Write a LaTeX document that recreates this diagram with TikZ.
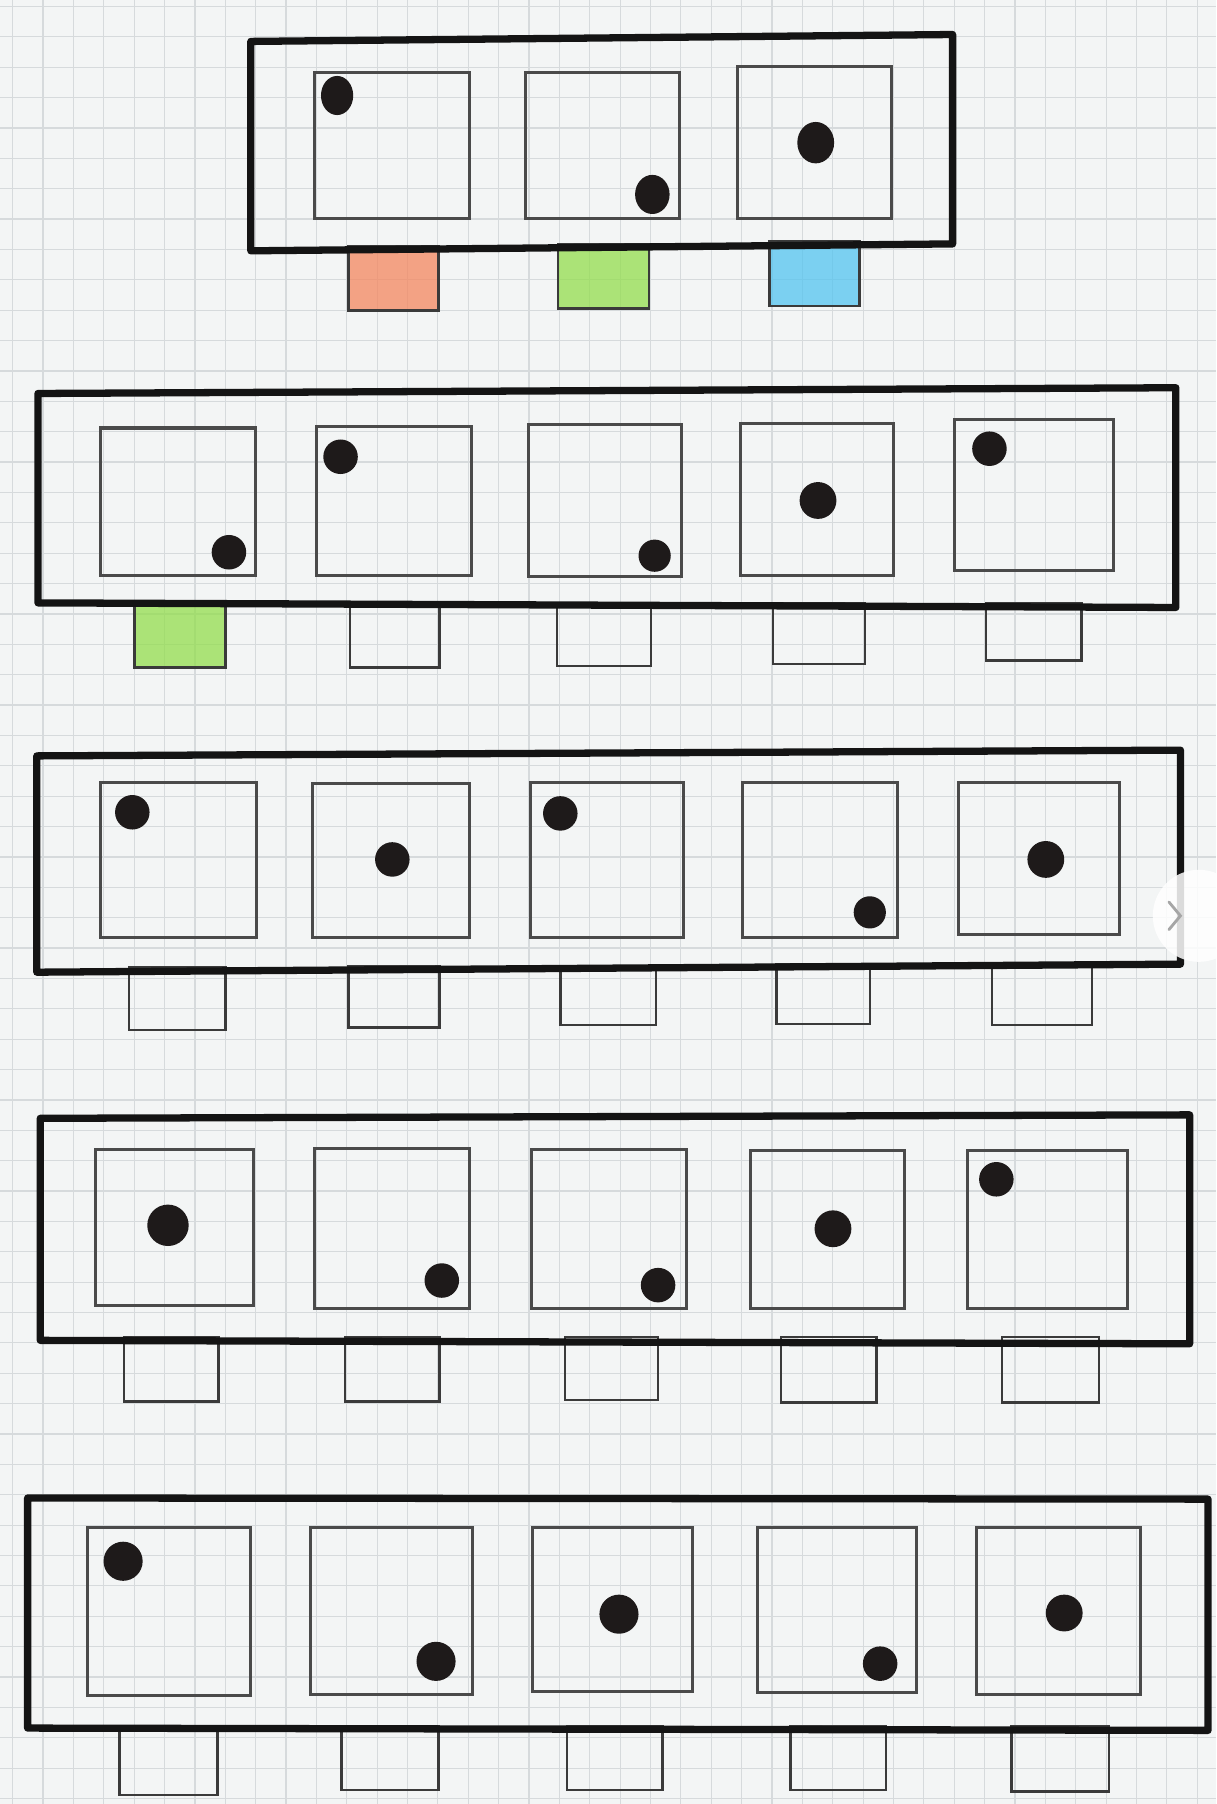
\documentclass[tikz,border=0pt]{standalone}
\begin{document}
\begin{tikzpicture}[x=0.02cm,y=-0.02cm,
  paper/.style={fill=paperc},
  gridline/.style={draw=gridc,line width=0.6pt},
  frame/.style={draw=framec,line width=3.6pt,line join=round},
  innersq/.style={draw=sqc,line width=1.5pt},
  tabbox/.style={draw=tabc,line width=1.2pt},
  dot/.style={fill=dotc}]
\definecolor{paperc}{HTML}{F3F5F5}
\definecolor{gridc}{HTML}{D6DADC}
\definecolor{framec}{HTML}{141414}
\definecolor{sqc}{HTML}{4A4A4A}
\definecolor{tabc}{HTML}{3A3A3A}
\definecolor{dotc}{HTML}{1E1A1A}
\definecolor{orangec}{HTML}{F4875F}
\definecolor{greenc}{HTML}{93DE4E}
\definecolor{bluec}{HTML}{54C4F0}
\useasboundingbox (0,0) rectangle (1057,1568);
\fill[paper] (0,0) rectangle (1057,1568);
% grid paper
\foreach \k in {-1,...,39} {\draw[gridline] ({37.4+26.4*\k},0) -- ({37.4+26.4*\k},1568);}
\foreach \k in {-2,...,59} {\draw[gridline] (0,{32+26.4*\k}) -- (1057,{32+26.4*\k});}
% ---------- tabs (drawn first; frame covers their top edges)
% row 1
\draw[tabbox,fill=orangec,fill opacity=0.75] (303,214) rectangle (381,270);
\draw[tabbox,fill=greenc,fill opacity=0.75] (485,212) rectangle (564,268);
\draw[tabbox,fill=bluec,fill opacity=0.75] (669,210) rectangle (747,266);
% row 2
\draw[tabbox,fill=greenc,fill opacity=0.75] (117,524) rectangle (196,580);
\draw[tabbox] (304,524) rectangle (382,580);
\draw[tabbox] (484,524) rectangle (566,579);
\draw[tabbox] (672,524) rectangle (752,577);
\draw[tabbox] (857,524) rectangle (940,574);
% row 3
\draw[tabbox] (112,841) rectangle (196,895);
\draw[tabbox] (303,840) rectangle (382,893);
\draw[tabbox] (487,840) rectangle (570,891);
\draw[tabbox] (675,838) rectangle (756,890);
\draw[tabbox] (862,837) rectangle (949,891);
% row 4
\draw[tabbox] (108,1162) rectangle (190,1218);
\draw[tabbox] (300,1162) rectangle (382,1218);
\draw[tabbox] (491,1162) rectangle (572,1217);
\draw[tabbox] (679,1162) rectangle (762,1219);
\draw[tabbox] (871,1162) rectangle (955,1219);
% row 5
\draw[tabbox] (104,1500) rectangle (189,1560);
\draw[tabbox] (297,1500) rectangle (381,1556);
\draw[tabbox] (493,1500) rectangle (576,1556);
\draw[tabbox] (687,1500) rectangle (770,1556);
\draw[tabbox] (879,1500) rectangle (964,1557);
% ---------- frames
\draw[frame] (218,36) -- (828,30) -- (828,212) -- (218,218) -- cycle;
\draw[frame] (33,342) -- (1022,337) -- (1022,528) -- (33,524) -- cycle;
\draw[frame] (32,657) -- (1026,652) -- (1026,838) -- (32,845) -- cycle;
\draw[frame] (35,972) -- (1034,969) -- (1034,1168) -- (35,1165) -- cycle;
\draw[frame] (24,1302) -- (1050,1303) -- (1050,1504) -- (24,1502) -- cycle;
% ---------- inner squares
% row 1
\draw[innersq] (273,63) rectangle (408,190);
\draw[innersq] (457,63) rectangle (591,190);
\draw[innersq] (641,58) rectangle (775,190);
% row 2
\draw[innersq] (87,372) rectangle (222,500);
\draw[innersq] (275,371) rectangle (410,500);
\draw[innersq] (459,369) rectangle (592,501);
\draw[innersq] (644,368) rectangle (777,500);
\draw[innersq] (830,365) rectangle (968,496);
% row 3
\draw[innersq] (87,680) rectangle (223,815);
\draw[innersq] (272,681) rectangle (408,815);
\draw[innersq] (461,680) rectangle (594,815);
\draw[innersq] (645,680) rectangle (780,815);
\draw[innersq] (833,680) rectangle (973,812);
% row 4
\draw[innersq] (83,999) rectangle (220,1135);
\draw[innersq] (273,998) rectangle (408,1137);
\draw[innersq] (462,999) rectangle (597,1137);
\draw[innersq] (652,1000) rectangle (786,1137);
\draw[innersq] (841,1000) rectangle (980,1137);
% row 5
\draw[innersq] (76,1328) rectangle (218,1474);
\draw[innersq] (270,1328) rectangle (411,1473);
\draw[innersq] (463,1328) rectangle (602,1470);
\draw[innersq] (658,1328) rectangle (797,1471);
\draw[innersq] (849,1328) rectangle (991,1473);
% ---------- dots
% row 1
\fill[dot] (293,83) ellipse (14 and 17);
\fill[dot] (567,169) ellipse (15 and 17);
\fill[dot] (709,124) ellipse (16 and 18);
% row 2
\fill[dot] (199,480) circle (15);
\fill[dot] (296,397) circle (15);
\fill[dot] (569,483) circle (14);
\fill[dot] (711,435) circle (16);
\fill[dot] (860,390) circle (15);
% row 3
\fill[dot] (115,706) circle (15);
\fill[dot] (341,747) circle (15);
\fill[dot] (487,707) circle (15);
\fill[dot] (756,793) circle (14);
\fill[dot] (909,747) circle (16);
% row 4
\fill[dot] (146,1065) circle (18);
\fill[dot] (384,1113) circle (15);
\fill[dot] (572,1117) circle (15);
\fill[dot] (724,1068) circle (16);
\fill[dot] (866,1025) circle (15);
% row 5
\fill[dot] (107,1357) circle (17);
\fill[dot] (379,1444) circle (17);
\fill[dot] (538,1403) circle (17);
\fill[dot] (765,1446) circle (15);
\fill[dot] (925,1402) circle (16);
% ---------- overlay button at the right edge
\fill[white,opacity=0.85] (1042,796) circle (40);
\draw[gray!70,line width=1.4pt,line cap=round] (1016,784) -- (1026,796) -- (1016,808);
\end{tikzpicture}
\end{document}
